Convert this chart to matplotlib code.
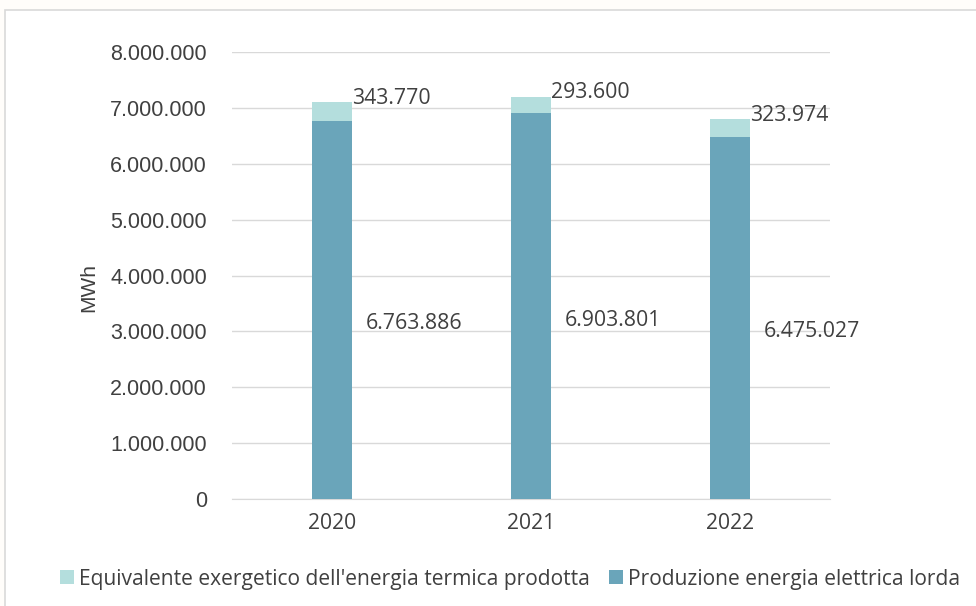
import matplotlib
matplotlib.use('Agg')
from matplotlib import pyplot as plt
from matplotlib.patches import Rectangle
from matplotlib.ticker import FuncFormatter

years = ['2020', '2021', '2022']
elettrica = [6763886, 6903801, 6475027]
termica = [343770, 293600, 323974]
yticks = [0, 1000000, 2000000, 3000000, 4000000, 5000000, 6000000, 7000000, 8000000]

c_el = '#6aa5ba'
c_th = '#b4dedd'
txt = '#404040'

plt.rcParams['font.family'] = ['Open Sans', 'DejaVu Sans']
arial = ['Liberation Sans', 'DejaVu Sans']


def fmt(v, pos=None):
    return '{:,.0f}'.format(v).replace(',', '.')


fig = plt.figure(figsize=(9.76, 6.06), dpi=100)
fig.patch.set_facecolor('#fffdfa')
# chart frame
fig.patches.append(Rectangle((4.5 / 976, -0.01), 1.0, 1 - 9.5 / 606 + 0.01,
                             transform=fig.transFigure, facecolor='white',
                             edgecolor='#d9d9d9', linewidth=1.2, zorder=-10))

ax = fig.add_axes([232 / 976, 1 - 499 / 606, 598 / 976, 447 / 606])
ax.set_facecolor('none')
x = range(len(years))
ax.bar(x, elettrica, width=0.2, color=c_el, label='Produzione energia elettrica lorda', zorder=3)
ax.bar(x, termica, width=0.2, bottom=elettrica, color=c_th,
       label="Equivalente exergetico dell'energia termica prodotta", zorder=3)

for i in x:
    ax.annotate(fmt(elettrica[i]), (i + 0.1, elettrica[i] / 2), xytext=(10, -10),
                textcoords='offset points', fontsize=15.3, color=txt, va='center')
    ax.annotate(fmt(termica[i]), (i + 0.1, elettrica[i] + termica[i] / 2), xytext=(0, 9),
                textcoords='offset points', fontsize=15.3, color=txt, va='center')

ax.set_xlim(-0.5, 2.5)
ax.set_ylim(0, 8000000)
ax.set_yticks(yticks)
ax.yaxis.set_major_formatter(FuncFormatter(fmt))
ax.set_xticks(list(x))
ax.set_xticklabels(years)
ax.grid(axis='y', color='#d9d9d9', linewidth=1, zorder=0)
for s in ['top', 'right', 'left']:
    ax.spines[s].set_visible(False)
ax.spines['bottom'].set_color('#d9d9d9')
ax.tick_params(length=0, colors=txt)
ax.tick_params(axis='x', labelsize=15.2, pad=10)
ax.tick_params(axis='y', pad=18)
for t in ax.get_yticklabels():
    t.set_family(arial)
    t.set_fontsize(15.5)
ax.set_ylabel('MWh', fontsize=15, color=txt, family=arial)
ax.yaxis.set_label_coords(-(232 - 98) / 598, (499 - 287) / 447)

h, l = ax.get_legend_handles_labels()
fig.legend(h[::-1], l[::-1], loc='center', bbox_to_anchor=(510 / 976, 1 - 579 / 606), ncol=2,
           frameon=False, fontsize=15.1, handlelength=0.66, handleheight=0.66,
           handletextpad=0.24, columnspacing=0.9, labelcolor=txt)

fig.savefig('out.png', dpi=100, facecolor=fig.get_facecolor())
